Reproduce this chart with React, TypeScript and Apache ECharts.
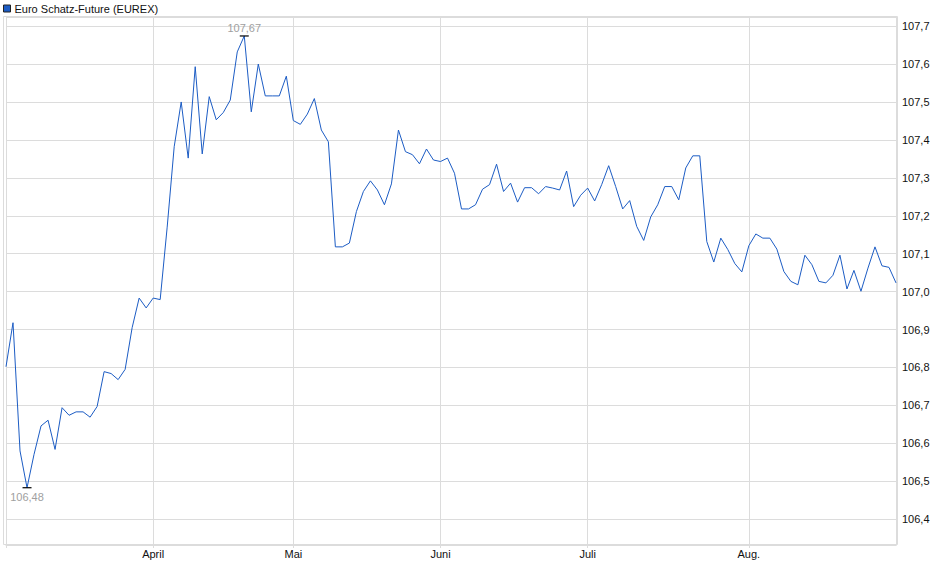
import React, { useEffect, useRef } from 'react';
import * as echarts from 'echarts';

// Kurs Euro Schatz-Future, Handelstage 03.03.2025 - 01.09.2025
const seriesName = 'Euro Schatz-Future (EUREX)';

const holidays = ['2025-04-18', '2025-04-21', '2025-05-01'];
const monthNames = ['Jan.', 'Feb.', 'März', 'April', 'Mai', 'Juni', 'Juli', 'Aug.', 'Sep.', 'Okt.', 'Nov.', 'Dez.'];

const prices = [
    106.802, 106.918, 106.58, 106.483, 106.571, 106.646, 106.661, 106.584, 106.694, 106.674,
    106.683, 106.683, 106.669, 106.697, 106.789, 106.784, 106.768, 106.795, 106.905, 106.983,
    106.957, 106.983, 106.979, 107.17, 107.382, 107.5, 107.352, 107.593, 107.363, 107.514,
    107.453, 107.472, 107.505, 107.632, 107.674, 107.474, 107.6, 107.516, 107.516, 107.516,
    107.568, 107.451, 107.441, 107.468, 107.509, 107.426, 107.395, 107.118, 107.118, 107.128,
    107.211, 107.264, 107.292, 107.268, 107.229, 107.284, 107.426, 107.369, 107.361, 107.337,
    107.376, 107.347, 107.343, 107.352, 107.312, 107.218, 107.218, 107.229, 107.27, 107.282,
    107.336, 107.264, 107.286, 107.236, 107.274, 107.274, 107.258, 107.277, 107.273, 107.268,
    107.318, 107.224, 107.254, 107.273, 107.239, 107.282, 107.332, 107.277, 107.218, 107.24,
    107.172, 107.135, 107.197, 107.229, 107.277, 107.277, 107.242, 107.326, 107.358, 107.358,
    107.132, 107.078, 107.141, 107.111, 107.074, 107.052, 107.121, 107.152, 107.141, 107.141,
    107.112, 107.053, 107.027, 107.018, 107.096, 107.071, 107.027, 107.023, 107.043, 107.096,
    107.007, 107.056, 107.001, 107.062, 107.118, 107.068, 107.064, 107.023,
];

// Handelstage erzeugen (Wochenenden und Feiertage raus)
const tradingDays: string[] = [];
{
    const d = new Date(Date.UTC(2025, 2, 3));
    while (tradingDays.length < prices.length) {
        const iso = d.toISOString().slice(0, 10);
        const wd = d.getUTCDay();
        if (wd !== 0 && wd !== 6 && holidays.indexOf(iso) < 0) tradingDays.push(iso);
        d.setUTCDate(d.getUTCDate() + 1);
    }
}

const yMin = 106.332;
const yMax = 107.724;

const fontFamily = '"Liberation Sans", Arial, sans-serif';
const gridColor = '#dcdcdc';

// erster Handelstag eines Monats
const isMonthStart = (index: number) => {
    if (index === 0) return true;
    if (index >= tradingDays.length - 1) return false;
    return tradingDays[index].slice(5, 7) !== tradingDays[index - 1].slice(5, 7);
};

const fmt = (v: number, digits: number) => v.toFixed(digits).replace('.', ',');

const App: React.FC = () => {
    const chartRef = useRef<HTMLDivElement>(null);

    useEffect(() => {
        document.body.style.margin = '0';
        if (!chartRef.current) return;
        const chart = echarts.init(chartRef.current, null, { renderer: 'svg' });

        const options = {
            animation: false,
            textStyle: { fontFamily },
            legend: {
                left: 0,
                top: 0,
                padding: [3, 3],
                itemWidth: 7,
                itemHeight: 7,
                itemGap: 4,
                icon: 'rect',
                textStyle: { fontSize: 11, color: '#111', fontFamily, padding: [0, 0, 0, -1] },
                itemStyle: { borderColor: '#222', borderWidth: 1 },
                data: [seriesName],
            },
            grid: {
                left: 6,
                right: 44,
                top: 17,
                bottom: 34,
            },
            graphic: [
                {
                    type: 'rect',
                    shape: { x: 3.5, y: 16.5, width: 894, height: 528 },
                    style: { fill: 'none', stroke: gridColor, lineWidth: 1 },
                    silent: true,
                    z: 0,
                },
            ],
            xAxis: {
                type: 'category',
                boundaryGap: false,
                data: tradingDays,
                axisLine: { show: true, lineStyle: { color: gridColor } },
                axisTick: {
                    show: true,
                    interval: (index: number) => isMonthStart(index),
                    length: 3,
                    lineStyle: { color: gridColor },
                },
                axisLabel: {
                    interval: (index: number) => isMonthStart(index),
                    margin: 3,
                    fontSize: 11,
                    color: '#111',
                    fontFamily,
                    formatter: (value: string, index: number) => {
                        if (index === 0) return '';
                        return monthNames[parseInt(value.slice(5, 7), 10) - 1];
                    },
                },
                splitLine: {
                    show: true,
                    interval: (index: number) => isMonthStart(index),
                    lineStyle: { color: gridColor, width: 1 },
                },
            },
            yAxis: {
                type: 'value',
                position: 'right',
                min: yMin,
                max: yMax,
                splitNumber: 14,
                axisLine: { show: true, lineStyle: { color: gridColor } },
                axisTick: { show: false },
                axisLabel: {
                    margin: 6,
                    fontSize: 11,
                    color: '#111',
                    fontFamily,
                    showMinLabel: false,
                    showMaxLabel: false,
                    formatter: (v: number) => {
                        if (Math.abs(v * 10 - Math.round(v * 10)) > 1e-6) return '';
                        return fmt(v, 1);
                    },
                },
                splitLine: { show: true, lineStyle: { color: gridColor, width: 1 } },
            },
            series: [
                {
                    name: seriesName,
                    type: 'line',
                    data: prices,
                    color: '#1c5cc4',
                    showSymbol: false,
                    symbol: 'none',
                    lineStyle: { width: 1, color: '#1c5cc4' },
                    markPoint: {
                        silent: true,
                        symbol: 'rect',
                        symbolSize: [9, 1.2],
                        itemStyle: { color: '#000' },
                        data: [
                            {
                                type: 'max',
                                label: {
                                    show: true,
                                    position: 'top',
                                    distance: 2,
                                    color: '#a0a0a0',
                                    fontSize: 11,
                                    fontFamily,
                                    formatter: (p: any) => fmt(p.value, 2),
                                },
                            },
                            {
                                type: 'min',
                                label: {
                                    show: true,
                                    position: 'bottom',
                                    distance: 3,
                                    color: '#a0a0a0',
                                    fontSize: 11,
                                    fontFamily,
                                    formatter: (p: any) => fmt(p.value, 2),
                                },
                            },
                        ],
                    },
                },
            ],
        };

        chart.setOption(options);

        return () => {
            chart.dispose();
        };
    }, []);

    return <div ref={chartRef} style={{ width: '940px', height: '579px' }} />;
};

export default App;
